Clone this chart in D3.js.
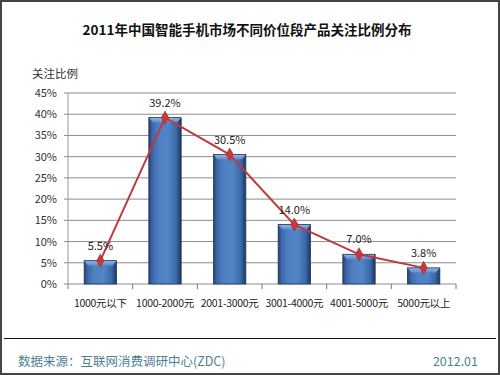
<!DOCTYPE html>
<html><head><meta charset="utf-8">
<script src="https://cdn.jsdelivr.net/npm/d3@7"></script>
<style>body{margin:0;background:#fff;}svg{display:block;font-family:"Noto Sans CJK SC","Noto Sans",sans-serif;}</style>
</head><body>
<script>
const categories = ["1000元以下","1000-2000元","2001-3000元","3001-4000元","4001-5000元","5000元以上"];
const values = [5.5, 39.2, 30.5, 14.0, 7.0, 3.8];
const yTicks = [0,5,10,15,20,25,30,35,40,45];
const title = "2011年中国智能手机市场不同价位段产品关注比例分布";
const yTitle = "关注比例";
const source = "数据来源：互联网消费调研中心(ZDC)";
const dateText = "2012.01";

const W = 500, H = 375;
const svg = d3.select("body").append("svg").attr("width", W).attr("height", H);
const m = {left: 68, right: 44, top: 93, bottom: 91};
const x = d3.scaleBand().domain(categories).range([m.left, W - m.right]).paddingInner(0.5).paddingOuter(0.25);
const y = d3.scaleLinear().domain([0, 45]).range([H - m.bottom, m.top]);

// frame
svg.append("rect").attr("x", 1).attr("y", 1).attr("width", W - 2).attr("height", H - 2)
  .attr("fill", "#fff").attr("stroke", "#444").attr("stroke-width", 2);

// gradients
const defs = svg.append("defs");
const g1 = defs.append("linearGradient").attr("id", "barg").attr("x1", 0).attr("x2", 1).attr("y1", 0).attr("y2", 0);
[[0,"#23416f"],[0.1,"#3a66a6"],[0.3,"#4f80c4"],[0.6,"#5284c6"],[0.85,"#3a68a8"],[1,"#1d365e"]]
  .forEach(([o,c]) => g1.append("stop").attr("offset", o).attr("stop-color", c));
const g2 = defs.append("linearGradient").attr("id", "topg").attr("x1", 0).attr("x2", 0).attr("y1", 0).attr("y2", 1);
[[0,"#9fc0ea"],[1,"#5a8bcd"]].forEach(([o,c]) => g2.append("stop").attr("offset", o).attr("stop-color", c));

// title
svg.append("text").attr("x", 247).attr("y", 35).attr("text-anchor", "middle")
  .attr("font-size", 13.5).attr("font-weight", "bold").attr("fill", "#111").text(title);
svg.append("text").attr("x", 32).attr("y", 78).attr("font-size", 11.5).attr("fill", "#333").text(yTitle);

// grid
svg.append("g").selectAll("line").data(yTicks).join("line")
  .attr("x1", m.left - 4).attr("x2", W - m.right)
  .attr("y1", d => y(d)).attr("y2", d => y(d))
  .attr("stroke", "#8c8c8c").attr("stroke-width", 1);
svg.append("line").attr("x1", m.left).attr("x2", m.left).attr("y1", y(45)).attr("y2", y(0)).attr("stroke", "#999");

// y labels
svg.append("g").selectAll("text").data(yTicks).join("text")
  .attr("x", m.left - 11).attr("y", d => y(d) + 4).attr("text-anchor", "end")
  .attr("font-size", 11).attr("fill", "#333").text(d => d + "%");

// x ticks at boundaries
const bounds = d3.range(categories.length + 1).map(i => m.left + i * (W - m.left - m.right) / categories.length);
svg.append("g").selectAll("line").data(bounds).join("line")
  .attr("x1", d => d).attr("x2", d => d).attr("y1", y(0)).attr("y2", y(0) + 5).attr("stroke", "#777");

// bars
const bars = svg.append("g");
categories.forEach((c, i) => {
  const bx = x(c), bw = x.bandwidth(), by = y(values[i]), bh = y(0) - by;
  bars.append("rect").attr("x", bx).attr("y", by).attr("width", bw).attr("height", bh).attr("fill", "url(#barg)");
  const th = Math.min(5, bh - 1);
  bars.append("path")
    .attr("d", `M${bx},${by} L${bx + bw},${by} L${bx + bw - 4},${by + th} L${bx + 4},${by + th} Z`)
    .attr("fill", "url(#topg)").attr("opacity", 0.9);
  bars.append("rect").attr("x", bx).attr("y", by).attr("width", bw).attr("height", bh)
    .attr("fill", "none").attr("stroke", "#1e3760").attr("stroke-width", 0.8);
});

// x labels
svg.append("g").selectAll("text").data(categories).join("text")
  .attr("x", d => x(d) + x.bandwidth() / 2).attr("y", 307).attr("text-anchor", "middle")
  .attr("font-size", 10.5).attr("letter-spacing", -0.3).attr("fill", "#222").text(d => d);

// line
const cx = c => x(c) + x.bandwidth() / 2;
const line = d3.line().x((d, i) => cx(categories[i])).y(d => y(d));
svg.append("path").datum(values).attr("d", line).attr("fill", "none").attr("stroke", "#c0393c").attr("stroke-width", 2);
svg.append("g").selectAll("path").data(values).join("path")
  .attr("d", d3.symbol(d3.symbolDiamond, 50))
  .attr("transform", (d, i) => `translate(${cx(categories[i])},${y(d)})`)
  .attr("fill", "#c8373a").attr("stroke", "#a02a2c").attr("stroke-width", 0.5);

// value labels
svg.append("g").selectAll("text").data(values).join("text")
  .attr("x", (d, i) => cx(categories[i])).attr("y", d => y(d) - 11).attr("text-anchor", "middle")
  .attr("font-size", 11).attr("fill", "#222").text(d => d.toFixed(1) + "%");

// footer
svg.append("line").attr("x1", 4).attr("x2", 496).attr("y1", 338.5).attr("y2", 338.5).attr("stroke", "#111").attr("stroke-width", 1.2);
svg.append("text").attr("x", 18).attr("y", 366).attr("font-size", 12.5).attr("fill", "#4f7f90").text(source);
svg.append("text").attr("x", 478).attr("y", 366).attr("text-anchor", "end").attr("font-size", 12.5).attr("fill", "#4f7f90").text(dateText);
</script>
</body></html>
